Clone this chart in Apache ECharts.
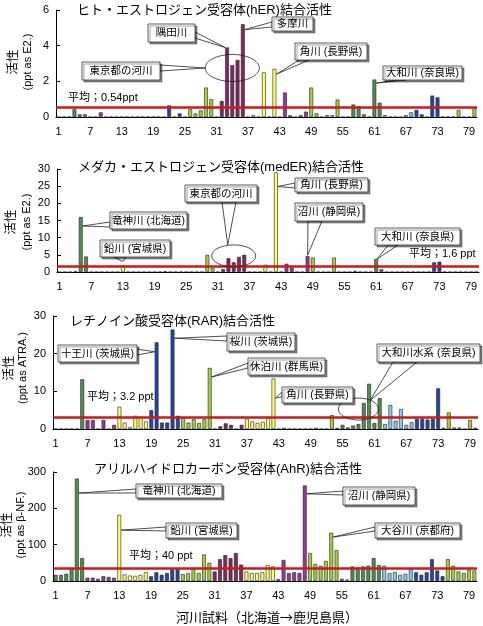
<!DOCTYPE html>
<html><head><meta charset="utf-8">
<script src="https://cdn.jsdelivr.net/npm/echarts@6/dist/echarts.min.js"></script>
<style>html,body{margin:0;padding:0;background:#fff}#c{width:483px;height:626px}</style>
</head><body><div id="c"></div>
<script>
// ---- data ----
const categories = ['1','2','3','4','5','6','7','8','9','10','11','12','13','14','15','16','17','18','19','20',
'21','22','23','24','25','26','27','28','29','30','31','32','33','34','35','36','37','38','39','40',
'41','42','43','44','45','46','47','48','49','50','51','52','53','54','55','56','57','58','59','60',
'61','62','63','64','65','66','67','68','69','70','71','72','73','74','75','76','77','78','79','80'];

const herValues = [0,0,0,0.44,0.15,0.15,0,0,0.26,0, 0,0,0,0,0,0,0,0,0,0,
 0,0.65,0,0.2,0,0.44,0.2,0.37,1.65,1.0, 0,0.9,3.9,2.9,3.2,5.2,0,0.1,0,2.5,
 0,2.7,0,1.37,0.1,0,0.1,0.3,1.65,0.2, 0,0.1,0.1,0.98,0,0,0.7,0.6,0.15,0,
 2.1,0.8,0.1,0,0,0,0.1,0.26,0.4,0.15, 0,1.2,1.1,0,0,0,0.4,0,0,0.55];
const mederValues = [0,0,0,0.2,16,4.5,0,0,0,0, 0,0,1.9,0,0,0,0,0,0,0,
 0.2,0,0,0,0,0,0,0,5.0,1.1, 0,0.8,4.0,2.8,4.4,5.0,0,0,0,2.1,
 0,29,0,2.4,1.3,0,0,4.6,4.2,0, 0,0,4.2,0,0,0,0.3,0,0,0,
 3.8,0.8,0,0,0,0,0,0,0,0, 0,2.8,3.0,0,0,0,0,0,0,0];
const rarValues = [0,0,0,0,0,13.2,2.4,2.4,0,2.4, 0,1.1,5.9,1.7,0.5,3.5,3.3,2.0,5.0,23,
 1.7,1.7,26.4,3.5,3.0,1.7,2.6,1.6,2.6,16.2, 0,0.7,1.5,1.1,0,1.1,2.7,2.0,1.6,1.9,
 2.9,13.4,0,0.3,0,0,0,0,0,0.3, 0,0,3.7,0.3,1.1,0.4,0.9,1.3,6.9,12.0,
 1.6,8.2,1.3,6.4,2.2,5.3,1.1,1.8,2.7,2.7, 2.5,2.7,10.8,0.3,4.4,0.4,0.4,0,2.4,0.3];
const ahrValues = [17,17,20,33,282,63,9,9,6,13, 11,9,182,18,15,14,17,24,13,24,
 17,22,32,33,19,22,33,22,73,50, 26,60,71,63,77,45,26,22,22,24,
 44,40,5,58,22,24,22,263,77,47, 42,55,133,85,6,4,40,37,40,42,
 63,44,42,22,24,17,20,32,24,17, 24,60,29,13,60,42,26,22,31,29];

const meanLines = [0.54, 1.6, 3.0, 35];
const meanTexts = ['平均；0.54ppt', '平均；1.6 ppt', '平均；3.2 ppt', '平均；40 ppt'];
const titles = ['ヒト・エストロジェン受容体(hER)結合活性', 'メダカ・エストロジェン受容体(medER)結合活性',
  'レチノイン酸受容体(RAR)結合活性', 'アリルハイドロカーボン受容体(AhR)結合活性'];
const yUnits = ['(ppt as E2.)', '(ppt as E2.)', '(ppt as ATRA.)', '(ppt as β-NF.)'];
const yMax = [6, 30, 30, 300];
const yInterval = [2, 5, 10, 100];
const xTitle = '河川試料（北海道→鹿児島県）';

// ---- styles ----
const FONT = "'Liberation Sans', 'Noto Sans CJK JP', sans-serif";
const FONT_CJK = "'Noto Sans CJK JP', sans-serif";
const C_GREEN = '#4f8f4f', C_PURPLE = '#9a379c', C_YELLOW = '#ffff66', C_BLUE = '#2444a8',
      C_YG = '#a3cf3c', C_MAROON = '#7e2a62', C_LBLUE = '#7ccdf2';
const colorRanges = [[1,6,C_GREEN],[7,12,C_PURPLE],[13,18,C_YELLOW],[19,24,C_BLUE],[25,30,C_YG],
  [31,36,C_MAROON],[37,42,C_YELLOW],[43,48,C_PURPLE],[49,54,C_YG],[55,62,C_GREEN],[63,68,C_LBLUE],
  [69,74,C_BLUE],[75,80,C_YG]];
function colorOf(n){ for (const r of colorRanges) if (n>=r[0] && n<=r[1]) return r[2]; return '#888'; }

const grids = [
  {left:56, right:6, top:10, height:107},
  {left:57, right:4, top:169, height:103},
  {left:53, right:5, top:316, height:113},
  {left:53, right:6, top:472, height:109}
];
const seriesValues = [herValues, mederValues, rarValues, ahrValues];

const chart = echarts.init(document.getElementById('c'));
chart.setOption({
  animation:false,
  backgroundColor:'#fff',
  grid: grids,
  xAxis: grids.map((g,k)=>({gridIndex:k,type:'category',data:categories,boundaryGap:true,
    axisLine:{lineStyle:{color:'#000',width:1}},
    axisTick:{inside:true,length:3,interval:0,lineStyle:{color:'#000',width:1}},
    axisLabel:{interval:5,fontSize:11,color:'#000',margin:9,fontFamily:FONT}})),
  yAxis: grids.map((g,k)=>({gridIndex:k,type:'value',min:0,max:yMax[k],interval:yInterval[k],
    axisLine:{show:true,lineStyle:{color:'#000',width:1}},
    axisTick:{show:true,inside:true,length:4,lineStyle:{color:'#000'}},
    splitLine:{show:false},
    axisLabel:{fontSize:11,color:'#000',margin:7,fontFamily:FONT}})),
  series: seriesValues.map((vals,k)=>({type:'bar',xAxisIndex:k,yAxisIndex:k,barWidth:'72%',
    data: vals.map((v,i)=>({value:v,itemStyle:{color:colorOf(i+1)}})),
    itemStyle:{borderColor:'#222',borderWidth:0.6},
    markLine:{silent:true,symbol:'none',label:{show:false},
      lineStyle:{color:'#cc1a1a',width:2.6,type:'solid'},data:[{yAxis:meanLines[k]}]}}))
});

// ---- annotations ----
const px = (g, idx, val) => chart.convertToPixel({gridIndex:g}, [idx, val]);
const G = [];
let zc = 10;
function txt(x, y, t, size, align, rot, fam){
  G.push({type:'text', x, y, rotation: rot||0, z: 100 + (zc++),
    style:{text:t, font: size + 'px ' + (fam || FONT), fill:'#000', textAlign: align||'left', textVerticalAlign:'middle'}});
}
function ellipse(c, rx, ry){
  G.push({type:'ellipse', z: 100 + (zc++), shape:{cx:c[0], cy:c[1], rx, ry},
    style:{fill:'none', stroke:'#222', lineWidth:0.8}});
}
function callout(box, t, b1, b2, tip){
  G.push({type:'polygon', z: 100 + (zc++), shape:{points:[b1, b2, tip]},
    style:{fill:'#fff', stroke:'#222', lineWidth:0.8}});
  G.push({type:'rect', z: 100 + (zc++), shape:{x:box[0], y:box[1], width:box[2], height:box[3]},
    style:{fill:'#fff', stroke:'#333', lineWidth:0.8, shadowColor:'rgba(0,0,0,0.45)', shadowBlur:0.01, shadowOffsetX:2, shadowOffsetY:2}});
  txt(box[0] + box[2]/2, box[1] + box[3]/2 + 0.5, t, 10.5, 'center');
}
const add = (p, dx, dy) => [p[0] + dx, p[1] + dy];

// titles
txt(77, 10, titles[0], 13);
txt(78, 167, titles[1], 13);
txt(70, 321, titles[2], 13);
txt(94, 469, titles[3], 13);

// y-axis names (rotated)
const yNamePos = [[13.5, 27.5, 62], [12, 27, 222], [10, 22.5, 368], [8, 21, 525]];
yNamePos.forEach((p,k)=>{
  txt(p[0], p[2], '活性', 12.5, 'center', Math.PI/2);
  txt(p[1], p[2], yUnits[k], 11, 'center', Math.PI/2);
});

// mean labels
txt(68, 98, meanTexts[0], 11);
txt(409, 254, meanTexts[1], 11);
txt(87, 397, meanTexts[2], 11);
txt(129, 556, meanTexts[3], 11);

// panel 1 (hER)
const e1 = px(0, 33, 2.75);
ellipse(e1, 27, 13.5);
callout([148,24,47,18], '隅田川', [195,32], [195,38], add(px(0,32,3.9), -2, 0));
callout([82,62,78,18], '東京都の河川', [160,65], [160,71], [e1[0]-27, e1[1]]);
callout([272,17,41,14], '多摩川', [272,22], [272,27], add(px(0,35,4.9), 2, 0));
callout([295,43,72,17], '角川 (長野県)', [299,60], [309,60], add(px(0,41,2.4), 2, 0));
callout([383,66,79,14], '大和川 (奈良県)', [396,80], [406,80], add(px(0,60,1.9), 2, 0));

// panel 2 (medER)
const e2 = px(1, 33, 4.7);
ellipse(e2, 22, 11);
callout([110,212,77,17], '竜神川 (北海道)', [110,222], [110,227], add(px(1,4,13.4), 2, 0));
callout([100,240,70,17], '鉛川 (宮城県)', [113,257], [126,257], add(px(1,12,1.9), 0, -4));
callout([185,185,72,17], '東京都の河川', [222,202], [236,202], [e2[0]-6, e2[1]-11]);
callout([295,178,73,14], '角川 (長野県)', [295,183], [295,188], add(px(1,41,24.9), 2, 0));
callout([295,203,68,18], '沼川 (静岡県)', [308,221], [322,221], add(px(1,47,4.6), 0, -1));
callout([375,228,85,17], '大和川 (奈良県)', [388,245], [398,245], add(px(1,60,3.8), 1, 0));

// panel 3 (RAR)
const e3 = px(2, 57, 5.3);
ellipse(e3, 20, 11);
callout([58,345,79,17], '十王川 (茨城県)', [137,349], [137,355], add(px(2,19,20.5), -2, 0));
callout([227,333,68,18], '桜川 (茨城県)', [227,336], [227,341], add(px(2,22,24.1), 2, 0));
callout([248,358,77,17], '休泊川 (群馬県)', [248,363], [248,368], add(px(2,29,13.8), 2, 0));
callout([282,387,71,16], '角川 (長野県)', [282,392], [282,397], add(px(2,41,8.2), 2, 0));
callout([377,344,103,18], '大和川水系 (奈良県)', [393,362], [417,362], [e3[0]+12, e3[1]-9]);

// panel 4 (AhR)
callout([136,484,86,14], '竜神川 (北海道)', [136,489], [136,493], add(px(3,4,242), 2, 0));
callout([166,523,71,15], '鉛川 (宮城県)', [166,527], [166,531], add(px(3,12,140), 2, 0));
callout([343,487,72,18], '沼川 (静岡県)', [343,491], [343,495], add(px(3,47,240), 2, 0));
callout([375,523,85,15], '大谷川 (京都府)', [375,527], [375,531], add(px(3,52,121), 2, 0));

// x-axis title
txt(267, 617, xTitle, 13, 'center', 0, FONT_CJK);

chart.setOption({graphic: G});
</script></body></html>
